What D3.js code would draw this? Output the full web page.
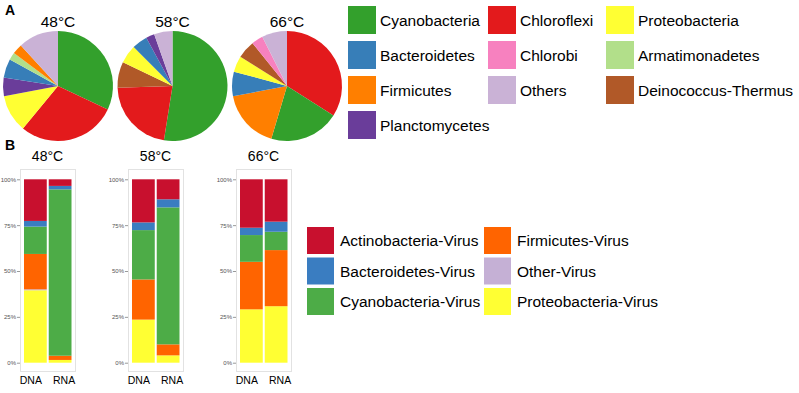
<!DOCTYPE html>
<html>
<head>
<meta charset="utf-8">
<script src="https://cdn.jsdelivr.net/npm/d3@7"></script>
<style>
  body { margin: 0; background: #fff; }
  text { font-family: "Liberation Sans", Arial, sans-serif; }
</style>
</head>
<body>
<div id="chart"></div>
<script>
// ---- data ----
const temps = ["48°C", "58°C", "66°C"];

// pie compositions, clockwise from 12 o'clock (percent)
const pie48 = [["Cyanobacteria", 32], ["Chloroflexi", 29], ["Proteobacteria", 11], ["Planctomycetes", 5.5],
               ["Bacteroidetes", 5.5], ["Armatimonadetes", 2.2], ["Firmicutes", 3], ["Others", 11.8]];
const pie58 = [["Cyanobacteria", 52.5], ["Chloroflexi", 22], ["Deinococcus-Thermus", 7.6], ["Proteobacteria", 5.4],
               ["Bacteroidetes", 4.6], ["Planctomycetes", 2.5], ["Others", 5.4]];
const pie66 = [["Chloroflexi", 34], ["Cyanobacteria", 20.6], ["Firmicutes", 17.4], ["Bacteroidetes", 7.2],
               ["Proteobacteria", 4.7], ["Deinococcus-Thermus", 5.3], ["Chlorobi", 3.4], ["Others", 7.4]];
const pies = [pie48, pie58, pie66];

const phylaCols = [
  ["Cyanobacteria", "Bacteroidetes", "Firmicutes", "Planctomycetes"],
  ["Chloroflexi", "Chlorobi", "Others"],
  ["Proteobacteria", "Armatimonadetes", "Deinococcus-Thermus"]
];
const phylaColor = {
  "Cyanobacteria": "#33a02c", "Bacteroidetes": "#377eb8", "Firmicutes": "#ff7f00",
  "Planctomycetes": "#6a3d9a", "Chloroflexi": "#e31a1c", "Chlorobi": "#f781bf",
  "Others": "#cab2d6", "Proteobacteria": "#ffff33", "Armatimonadetes": "#b2df8a",
  "Deinococcus-Thermus": "#b15928"
};

// virus stacks, bottom to top (percent)
const virusKeys = ["Proteobacteria-Virus", "Other-Virus", "Firmicutes-Virus",
                   "Cyanobacteria-Virus", "Bacteroidetes-Virus", "Actinobacteria-Virus"];
const samples = ["DNA", "RNA"];
const virus48 = { DNA: [39.5, 0.5, 19.3, 14.9, 3.1, 22.7], RNA: [1.5, 0, 2.3, 90.7, 1.9, 3.6] };
const virus58 = { DNA: [23.5, 0, 21.9, 26.9, 4.2, 23.5], RNA: [4, 0, 6, 74.7, 4.4, 10.9] };
const virus66 = { DNA: [29.1, 0, 25.9, 14.6, 4, 26.4], RNA: [30.8, 0, 30.6, 10, 5.5, 23.1] };
const virusSets = [virus48, virus58, virus66];
const yTicks = [0, 25, 50, 75, 100];

const virusCols = [
  ["Actinobacteria-Virus", "Bacteroidetes-Virus", "Cyanobacteria-Virus"],
  ["Firmicutes-Virus", "Other-Virus", "Proteobacteria-Virus"]
];
const virusColor = {
  "Actinobacteria-Virus": "#c8102e", "Bacteroidetes-Virus": "#3a7dc1",
  "Cyanobacteria-Virus": "#4dac47", "Firmicutes-Virus": "#ff6400",
  "Other-Virus": "#c5b0d5", "Proteobacteria-Virus": "#ffff33"
};

// ---- svg ----
const width = 799, height = 393;
const svg = d3.select("#chart").append("svg")
  .attr("width", width)
  .attr("height", height);

// ---- panel A: pies ----
svg.append("text").attr("x", 5).attr("y", 15)
  .attr("font-size", 14).attr("font-weight", "bold").text("A");

const pieX = d3.scalePoint().domain(temps).range([58, 287]);
const radius = 55;
const pieGen = d3.pie().sort(null).value(d => d[1]);
const arc = d3.arc().innerRadius(0).outerRadius(radius);

temps.forEach((t, i) => {
  const g = svg.append("g").attr("transform", `translate(${pieX(t)},86)`);
  g.selectAll("path")
    .data(pieGen(pies[i]))
    .enter().append("path")
    .attr("d", arc)
    .attr("fill", d => phylaColor[d.data[0]]);
  svg.append("text")
    .attr("x", pieX(t)).attr("y", 26.5)
    .attr("text-anchor", "middle")
    .attr("font-size", 15.5)
    .text(t);
});

const legA = svg.append("g");
const legAx = [348, 488, 606];
phylaCols.forEach((col, ci) => {
  col.forEach((name, ri) => {
    const y = 6 + ri * 35;
    legA.append("rect").attr("x", legAx[ci]).attr("y", y)
      .attr("width", 28).attr("height", 28).attr("fill", phylaColor[name]);
    legA.append("text").attr("x", legAx[ci] + 32).attr("y", y + 14)
      .attr("dominant-baseline", "central")
      .attr("font-size", 15.5).text(name);
  });
});

// ---- panel B: stacked bars ----
svg.append("text").attr("x", 5).attr("y", 149.5)
  .attr("font-size", 14).attr("font-weight", "bold").text("B");

const y = d3.scaleLinear().domain([0, 100]).range([362.7, 179.3]);
const stack = d3.stack().keys(virusKeys);
const panelW = 55;

temps.forEach((t, i) => {
  const left = 20 + i * 108;
  const g = svg.append("g");

  g.append("rect")
    .attr("x", left + 0.5).attr("y", 169.5)
    .attr("width", panelW).attr("height", 202)
    .attr("fill", "#fff").attr("stroke", "#e2e2e2");

  const x = d3.scaleBand().domain(samples)
    .range([left + 4, left + 51.5]).paddingInner(0.08);

  const rows = samples.map(s => {
    const r = { sample: s };
    virusKeys.forEach((k, j) => { r[k] = virusSets[i][s][j]; });
    return r;
  });

  g.selectAll("g.layer")
    .data(stack(rows))
    .enter().append("g")
    .attr("class", "layer")
    .attr("fill", d => virusColor[d.key])
    .selectAll("rect")
    .data(d => d)
    .enter().append("rect")
    .attr("x", d => x(d.data.sample))
    .attr("width", x.bandwidth())
    .attr("y", d => y(d[1]))
    .attr("height", d => y(d[0]) - y(d[1]));

  const axis = d3.axisLeft(y).tickValues(yTicks)
    .tickFormat(d => d + "%").tickSize(3).tickPadding(1);
  const ag = g.append("g").attr("transform", `translate(${left},0)`).call(axis);
  ag.select(".domain").remove();
  ag.selectAll(".tick line").attr("stroke", "#999");
  ag.selectAll(".tick text").attr("fill", "#555")
    .attr("font-size", 6)
    .attr("font-family", "Liberation Sans, Arial, sans-serif");

  samples.forEach((s, j) => {
    g.append("text")
      .attr("x", x(s) + x.bandwidth() / 2 + (j === 0 ? -4.5 : 4))
      .attr("y", 384)
      .attr("text-anchor", "middle")
      .attr("font-size", 10.5)
      .text(s);
  });

  svg.append("text")
    .attr("x", left + 27.5).attr("y", 161)
    .attr("text-anchor", "middle")
    .attr("font-size", 14)
    .text(t);
});

const legB = svg.append("g");
const legBx = [307, 484];
virusCols.forEach((col, ci) => {
  col.forEach((name, ri) => {
    const yy = 227 + ri * 30.5;
    legB.append("rect").attr("x", legBx[ci]).attr("y", yy)
      .attr("width", 27).attr("height", 27).attr("fill", virusColor[name]);
    legB.append("text").attr("x", legBx[ci] + 33).attr("y", yy + 13.5)
      .attr("dominant-baseline", "central")
      .attr("font-size", 15.5).text(name);
  });
});
</script>
</body>
</html>
